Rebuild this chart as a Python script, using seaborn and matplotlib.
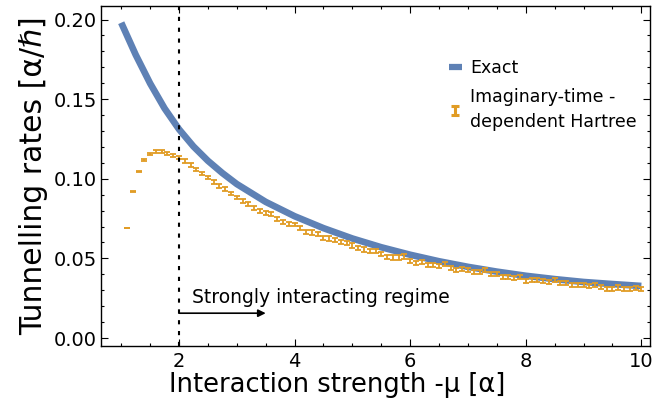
import numpy as np
import pandas as pd
import matplotlib
matplotlib.use("Agg")
import matplotlib.pyplot as plt
import seaborn as sns
from matplotlib.ticker import MultipleLocator, FormatStrFormatter
from matplotlib.legend_handler import HandlerErrorbar

# === Data ===
# exact tunnelling rate (solid curve)
exact_mu = [1.0, 1.25, 1.5, 1.75, 2.0, 2.25, 2.5, 2.75, 3.0, 3.5, 4.0, 4.5, 5.0,
            5.5, 6.0, 6.5, 7.0, 7.5, 8.0, 8.5, 9.0, 9.5, 10.0]
exact_rate = [0.198, 0.1779, 0.1599, 0.1442, 0.1311, 0.1203, 0.1113, 0.1036, 0.0967,
              0.0855, 0.0765, 0.0690, 0.0625, 0.0570, 0.0523, 0.0482, 0.0447, 0.0417,
              0.0391, 0.0370, 0.0352, 0.0339, 0.0327]

# imaginary-time dependent Hartree (points with error bars)
hartree_mu = [1.1, 1.2, 1.3, 1.4, 1.5, 1.6, 1.7, 1.8, 1.9, 2.0,
              2.1, 2.2, 2.3, 2.4, 2.5, 2.6, 2.7, 2.8, 2.9, 3.0,
              3.1, 3.2, 3.3, 3.4, 3.5, 3.6, 3.7, 3.8, 3.9, 4.0,
              4.1, 4.2, 4.3, 4.4, 4.5, 4.6, 4.7, 4.8, 4.9, 5.0,
              5.1, 5.2, 5.3, 5.4, 5.5, 5.6, 5.7, 5.8, 5.9, 6.0,
              6.1, 6.2, 6.3, 6.4, 6.5, 6.6, 6.7, 6.8, 6.9, 7.0,
              7.1, 7.2, 7.3, 7.4, 7.5, 7.6, 7.7, 7.8, 7.9, 8.0,
              8.1, 8.2, 8.3, 8.4, 8.5, 8.6, 8.7, 8.8, 8.9, 9.0,
              9.1, 9.2, 9.3, 9.4, 9.5, 9.6, 9.7, 9.8, 9.9, 10.0]
hartree_rate = [0.0690, 0.0919, 0.1048, 0.1117, 0.1158, 0.1171, 0.1171, 0.1160, 0.1148, 0.1133,
                0.1110, 0.1087, 0.1058, 0.1033, 0.1008, 0.0979, 0.0956, 0.0935, 0.0908, 0.0883,
                0.0863, 0.0842, 0.0819, 0.0798, 0.0783, 0.0777, 0.0748, 0.0727, 0.0717, 0.0713,
                0.0692, 0.0667, 0.0663, 0.0652, 0.0627, 0.0625, 0.0613, 0.0602, 0.0596, 0.0581,
                0.0567, 0.0556, 0.0548, 0.0544, 0.0529, 0.0510, 0.0506, 0.0506, 0.0512, 0.0485,
                0.0473, 0.0477, 0.0456, 0.0456, 0.0452, 0.0467, 0.0442, 0.0427, 0.0431, 0.0429,
                0.0415, 0.0413, 0.0425, 0.0402, 0.0402, 0.0382, 0.0382, 0.0375, 0.0383, 0.0360,
                0.0367, 0.0363, 0.0358, 0.0354, 0.0363, 0.0348, 0.0344, 0.0333, 0.0335, 0.0333,
                0.0329, 0.0333, 0.0321, 0.0310, 0.0310, 0.0317, 0.0306, 0.0306, 0.0313, 0.0308]
hartree_err = ([0.0002, 0.0003, 0.0004, 0.0005, 0.0006, 0.0007, 0.0008, 0.0009, 0.0010, 0.0011]
               + [0.0012] * 20 + [0.0013] * 60)

regime_start = 2.0
regime_arrow_end = 3.5

exact_df = pd.DataFrame({"mu": exact_mu, "rate": exact_rate})

# === Style ===
sns.set_style("ticks")
plt.rcParams["font.family"] = ["DejaVu Sans"]
plt.rcParams["text.color"] = "black"
plt.rcParams["axes.labelcolor"] = "black"
plt.rcParams["xtick.color"] = "black"
plt.rcParams["ytick.color"] = "black"

blue = "#5E81B5"
orange = "#E19C24"

fig = plt.figure(figsize=(6.63, 4.08), dpi=100)
ax = fig.add_axes([101 / 663, 62 / 408, 549 / 663, 340 / 408])

sns.lineplot(data=exact_df, x="mu", y="rate", ax=ax, color=blue, lw=4.8,
             legend=False, solid_capstyle="butt")
ax.errorbar(hartree_mu, hartree_rate, yerr=hartree_err, fmt="none",
            ecolor=orange, elinewidth=1.3, capsize=2.2, capthick=1.3)

# legend proxies (bolder than the plotted marks, like the reference)
exact_proxy, = ax.plot([np.nan], [np.nan], color=blue, lw=4.5, solid_capstyle="butt")
hartree_proxy = ax.errorbar([np.nan], [np.nan], yerr=[0.001], fmt="none",
                            ecolor=orange, elinewidth=2.2, capsize=3.0, capthick=2.2)

ax.axvline(regime_start, color="black", lw=1.5, linestyle=(0, (2, 3.2)))
ax.annotate("", xy=(regime_arrow_end, 0.0156), xytext=(regime_start, 0.0156),
            arrowprops=dict(arrowstyle="-|>", color="black", lw=1.2,
                            mutation_scale=11, shrinkA=0, shrinkB=0))
ax.text(2.23, 0.0255, "Strongly interacting regime", fontsize=13.5,
        va="center", ha="left")

ax.set_xlim(0.65, 10.15)
ax.set_ylim(-0.005, 0.2085)
ax.xaxis.set_major_locator(MultipleLocator(2))
ax.xaxis.set_minor_locator(MultipleLocator(0.5))
ax.yaxis.set_major_locator(MultipleLocator(0.05))
ax.yaxis.set_minor_locator(MultipleLocator(0.01))
ax.yaxis.set_major_formatter(FormatStrFormatter("%.2f"))

ax.tick_params(which="both", direction="in", top=True, right=True,
               width=0.8, color="black", labelsize=14)
ax.tick_params(which="major", length=5)
ax.tick_params(which="minor", length=2.5)
ax.tick_params(axis="y", pad=3)
ax.tick_params(axis="x", pad=4)
for s in ax.spines.values():
    s.set_color("black")
    s.set_linewidth(1.0)

ax.set_xlabel("Interaction strength -μ [α]", fontsize=18.5)
ax.xaxis.set_label_coords(0.43, -0.076)
ax.set_ylabel("Tunnelling rates [α/ℏ]", fontsize=21.5, labelpad=4)

leg = ax.legend([exact_proxy, hartree_proxy],
                ["Exact", "Imaginary-time -\ndependent Hartree"],
                handler_map={hartree_proxy: HandlerErrorbar(xerr_size=0.3, yerr_size=0.26)},
                loc="upper left", bbox_to_anchor=(0.633, 0.845),
                frameon=False, fontsize=12.5, handlelength=0.75, handletextpad=0.5,
                labelspacing=0.65, borderpad=0, borderaxespad=0)
for t in leg.get_texts():
    t.set_linespacing(1.5)

fig.savefig("out.png", dpi=100)
